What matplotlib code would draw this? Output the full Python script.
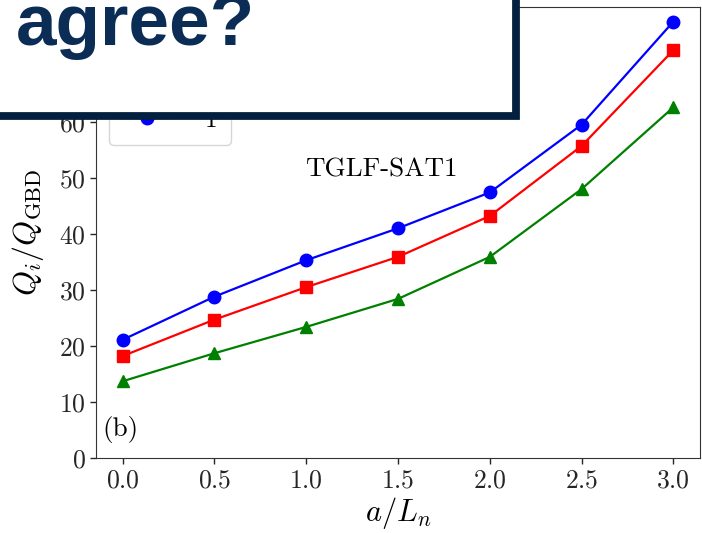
import numpy as np
import matplotlib
matplotlib.use("Agg")
import matplotlib.pyplot as plt
from matplotlib.patches import Rectangle

plt.rcParams['font.family'] = 'serif'
plt.rcParams['font.serif'] = ['cmr10']
plt.rcParams['mathtext.fontset'] = 'cm'
plt.rcParams['axes.formatter.use_mathtext'] = True
plt.rcParams['axes.unicode_minus'] = False

# ion heat flux vs density gradient, TGLF-SAT1 scan
a_Ln = [0.0, 0.5, 1.0, 1.5, 2.0, 2.5, 3.0]
Q_green = [13.7, 18.7, 23.4, 28.4, 35.9, 48.0, 62.6]
Q_red = [18.2, 24.7, 30.5, 35.9, 43.2, 55.7, 72.8]
Q_blue = [21.1, 28.8, 35.3, 41.0, 47.4, 59.5, 77.9]
labels = ['3', '2', '1']

fig = plt.figure(figsize=(7.02, 5.33), dpi=100)
ax = fig.add_axes([0.1368, 0.1407, 0.8604, 0.8462])

ax.plot(a_Ln, Q_green, '-^', color='green', lw=1.6, ms=9, label=labels[0])
ax.plot(a_Ln, Q_red, '-s', color='red', lw=1.6, ms=8.5, label=labels[1])
ax.plot(a_Ln, Q_blue, '-o', color='blue', lw=1.6, ms=9, label=labels[2])

ax.set_xlim(-0.145, 3.145)
ax.set_ylim(0, 80.5)
ax.set_xticks([0.0, 0.5, 1.0, 1.5, 2.0, 2.5, 3.0])
ax.set_yticks([0, 10, 20, 30, 40, 50, 60])
ax.tick_params(direction='out', length=4, width=1, labelsize=18.5, colors='0.15')
for s in ax.spines.values():
    s.set_color('0.2')

ax.set_xlabel(r'$a/L_n$', fontsize=22, labelpad=2)
ax.set_ylabel(r'$Q_i/Q_{\rm GBD}$', fontsize=23, labelpad=9)

ax.text(0.472, 0.64, 'TGLF-SAT1', transform=ax.transAxes, fontsize=19.5,
        ha='center', va='center')
ax.text(0.01, 0.033, '(b)', transform=ax.transAxes, fontsize=19.5,
        ha='left', va='bottom')

ax.legend(loc='upper left', fontsize=18, handletextpad=1.3,
          borderaxespad=0.5, labelspacing=0.62, borderpad=0.55)

# banner across the top left corner
fig.add_artist(Rectangle((-0.05, 0.7833), 0.7355 + 0.05, 0.3,
                         transform=fig.transFigure, facecolor='white',
                         edgecolor='#03203f', lw=5.6, zorder=10,
                         clip_on=False))
fig.text(16 / 702, (533 - 45) / 533, 'agree?', fontsize=52.5,
         family='Liberation Sans', weight='bold', color='#0b2d55',
         va='baseline', ha='left', zorder=11)

fig.savefig('out.png', dpi=100)
